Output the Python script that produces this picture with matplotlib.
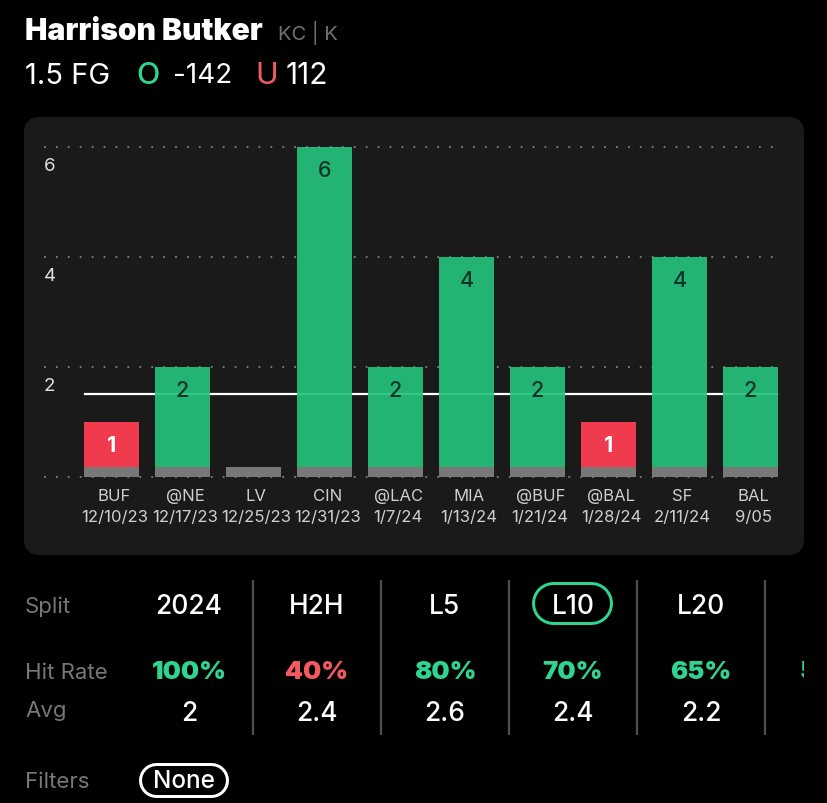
import matplotlib
matplotlib.use("Agg")
import matplotlib.pyplot as plt
from matplotlib.colors import to_rgba
from matplotlib.patches import FancyBboxPatch, Rectangle
from matplotlib.transforms import ScaledTranslation

plt.rcParams["font.family"] = ["Inter", "DejaVu Sans"]

# ======================
# DATA
# ======================
opponents = ["BUF", "@NE", "LV", "CIN", "@LAC", "MIA", "@BUF", "@BAL", "SF", "BAL"]
dates = ["12/10/23", "12/17/23", "12/25/23", "12/31/23", "1/7/24",
         "1/13/24", "1/21/24", "1/28/24", "2/11/24", "9/05"]
made_fg = [1, 2, 0, 6, 2, 4, 2, 1, 4, 2]
prop_line = 1.5
y_ticks = [0, 2, 4, 6]
y_tick_labels = ["", "2", "4", "6"]

splits = ["2024", "H2H", "L5", "L10", "L20"]
hit_rates = [100, 40, 80, 70, 65]
averages = ["2", "2.4", "2.6", "2.4", "2.2"]

# ======================
# COLOURS
# ======================
GREEN = to_rgba("#24c27c", 0.92)
RED = "#f03a4e"
GRAY_BASE = "#787878"
CARD = "#1a1a1a"
MINT = "#2fd490"
CORAL = "#f4595f"
LABEL_GRAY = "#777777"
W, H = 828, 804

fig = plt.figure(figsize=(W / 100, H / 100), dpi=100, facecolor="black")

# overlay in pixel coords for the app furniture
ui = fig.add_axes([0, 0, 1, 1], zorder=0)
ui.set_xlim(0, W)
ui.set_ylim(H, 0)
ui.axis("off")

ui.add_patch(FancyBboxPatch((40, 134), 748, 406, boxstyle="round,pad=16,rounding_size=16",
                            fc=CARD, ec="none"))

# header
ui.text(25, 32, "Harrison Butker", color="white", fontsize=21.6, fontweight="black", va="center")
ui.text(278, 33, "KC | K", color="#707070", fontsize=14.5, va="center")
ui.text(25, 76, "1.5 FG", color="white", fontsize=21, va="center")
ui.text(136, 76, "O", color=MINT, fontsize=22, fontweight="medium", va="center")
ui.text(173, 76, "-142", color="white", fontsize=20, va="center")
ui.text(255, 76, "U", color=CORAL, fontsize=22, va="center")
ui.text(286, 76, "112", color="white", fontsize=21.5, va="center")

# ======================
# BAR CHART
# ======================
bar_step = 71
first_center = 111.5
left, right, top, bottom = 44, 782, 147.7, 477.7
ax = fig.add_axes([left / W, 1 - bottom / H, (right - left) / W, (bottom - top) / H], zorder=1)
ax.patch.set_alpha(0)
ax.set_xlim((left - first_center) / bar_step, (right - first_center) / bar_step)
ax.set_ylim(0, 6)
for s in ax.spines.values():
    s.set_visible(False)

x = list(range(len(opponents)))
bar_colors = [GREEN if v > prop_line else RED for v in made_fg]

ax.set_axisbelow(True)
ax.yaxis.grid(True, color="#808080", linewidth=1.3, linestyle=(0, (1, 5.6)), clip_on=False)
ax.set_yticks(y_ticks)
ax.set_yticklabels(y_tick_labels, color="#e0e0e0", fontsize=13.5, ha="left", va="center")
ax.tick_params(axis="y", length=0, pad=0)
shift = ScaledTranslation(0, -13.7 / 72, fig.dpi_scale_trans)
for lab in ax.get_yticklabels():
    lab.set_transform(lab.get_transform() + shift)

ax.plot([-0.38, 9.38], [prop_line, prop_line], color="white", linewidth=1.6, zorder=2)
ax.bar(x, made_fg, width=55 / bar_step, color=bar_colors, zorder=3)
ax.bar(x, [0.18] * len(x), width=55 / bar_step, color=GRAY_BASE, zorder=4)

for xi, v in zip(x, made_fg):
    if v == 0:
        continue
    is_hit = v > prop_line
    ax.annotate(str(v), (xi, v), xytext=(0, -23), textcoords="offset pixels",
                ha="center", va="center", fontsize=15.5,
                color="#12342a" if is_hit else "white",
                fontweight="medium" if is_hit else "bold", zorder=5)

ax.set_xticks(x)
ax.set_xticklabels([f"{o}\n{d}" for o, d in zip(opponents, dates)],
                   color="#cfcfcf", fontsize=12, linespacing=1.53)
ax.tick_params(axis="x", length=0, pad=8)
nudge = ScaledTranslation(2 / 72, 0, fig.dpi_scale_trans)
for lab in ax.get_xticklabels():
    lab.set_transform(lab.get_transform() + nudge)

# ======================
# SPLIT TABLE
# ======================
col_step = 128
col0 = 189
for label, y in [("Split", 607), ("Hit Rate", 673), ("Avg", 711), ("Filters", 782)]:
    ui.text(25, y, label, color=LABEL_GRAY, fontsize=16, va="center")

for i, (s, r, a) in enumerate(zip(splits, hit_rates, averages)):
    cx = col0 + i * col_step
    ui.text(cx, 607, s, color="white", fontsize=19, fontweight="medium", ha="center", va="center")
    ui.text(cx, 673, f"{r}%", color=MINT if r >= 50 else CORAL, fontsize=18.5,
            fontweight="black", ha="center", va="center")
    ui.text(cx, 714, a, color="white", fontsize=19, fontweight="medium", ha="center", va="center")
    ui.plot([cx + 64, cx + 64], [581, 736], color="#4d4d4d", linewidth=1.7, solid_capstyle="butt")

# next column is cut off at the edge of the scroller
cut = ui.text(800, 673, "5", color=MINT, fontsize=18.5, fontweight="black", va="center")
cut.set_clip_on(True)
cut.set_clip_path(Rectangle((790, 650), 14, 40, transform=ui.transData))


def pill(x0, x1, yc, height, color):
    # capsule outline: thick round-capped line with a black one on top
    ui.plot([x0, x1], [yc, yc], color=color, linewidth=height * 0.72, solid_capstyle="round")
    ui.plot([x0, x1], [yc, yc], color="black", linewidth=(height - 6) * 0.72, solid_capstyle="round")


# selected split pill
pill(553.5, 591.5, 603.5, 43, MINT)

# filters pill
pill(156.5, 211.5, 780.5, 35, "white")
ui.text(184, 782, "None", color="white", fontsize=17.5, fontweight="medium", ha="center", va="center")

plt.savefig("out.png", dpi=100, facecolor="black")
